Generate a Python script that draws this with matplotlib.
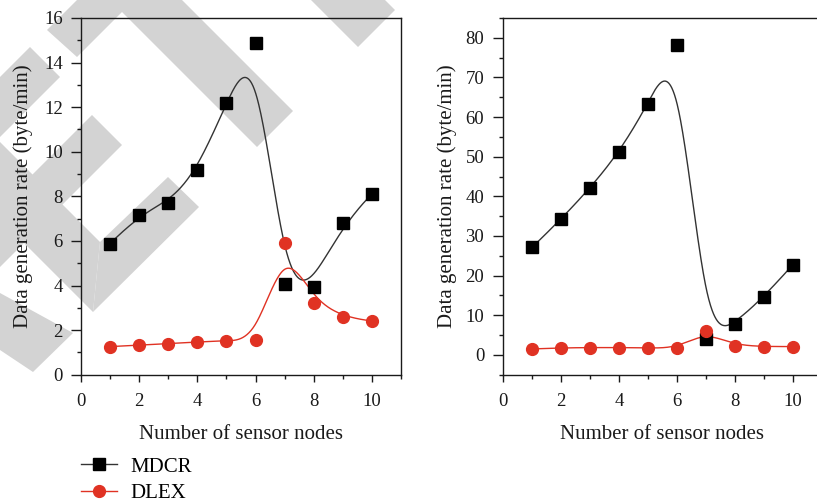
import numpy as np
import matplotlib
matplotlib.use("Agg")
import matplotlib.pyplot as plt
from matplotlib.ticker import MultipleLocator
from matplotlib.patches import Polygon
from matplotlib.lines import Line2D

# data
nodes = [1, 2, 3, 4, 5, 6, 7, 8, 9, 10]
mdcr_a = [5.88, 7.18, 7.68, 9.2, 12.2, 14.9, 4.05, 3.92, 6.8, 8.1]
dlex_a = [1.26, 1.33, 1.39, 1.47, 1.52, 1.56, 5.89, 3.23, 2.57, 2.41]
mdcr_b = [27.1, 34.2, 42.0, 51.1, 63.2, 78.3, 4.0, 7.9, 14.6, 22.8]
dlex_b = [1.5, 1.77, 1.85, 1.85, 1.77, 1.68, 5.9, 2.2, 2.1, 2.1]

W, H = 817, 503
plt.rcParams['font.family'] = ['Liberation Serif', 'DejaVu Serif']

BLACK = '#000000'
LINE_K = '#333333'
RED = '#e03223'
TXT = '#1a1a1a'


def bspline(xs, ys, n=600):
    # clamped cubic B-spline using the points as control points
    P = np.column_stack([xs, ys]).astype(float)
    k = 3
    m = len(P)
    knots = np.concatenate([[0.0] * k, np.arange(m - k + 1, dtype=float), [float(m - k)] * k])
    t = np.linspace(0, m - k, n)
    t[-1] -= 1e-9
    B = np.zeros((len(knots) - 1, n))
    for i in range(len(knots) - 1):
        B[i] = (knots[i] <= t) & (t < knots[i + 1])
    for p in range(1, k + 1):
        Bn = np.zeros((len(knots) - 1 - p, n))
        for i in range(len(knots) - 1 - p):
            d1 = knots[i + p] - knots[i]
            d2 = knots[i + p + 1] - knots[i + 1]
            a = (t - knots[i]) / d1 * B[i] if d1 > 0 else 0
            b = (knots[i + p + 1] - t) / d2 * B[i + 1] if d2 > 0 else 0
            Bn[i] = a + b
        B = Bn
    c = B.T @ P
    return c[:, 0], c[:, 1]


fig = plt.figure(figsize=(W / 100, H / 100), dpi=100)

# watermark bands (pixel coords, y down)
bands = [
    [(47, 30), (77, 0), (134, 0), (77, 57)],
    [(110, 0), (182, 0), (293, 111), (257, 147)],
    [(311, 0), (385, 0), (395, 10), (358, 47)],
    [(0, 77), (30, 47), (60, 77), (0, 137)],
    [(0, 207), (92, 115), (122, 145), (0, 267)],
    [(100, 242), (168, 177), (199, 207), (93, 312)],
    [(0, 142), (100, 242), (93, 312), (0, 219)],
    [(0, 293), (73, 333), (33, 372), (0, 350)],
]
for b in bands:
    pts = [(x / W, 1 - y / H) for x, y in b]
    fig.patches.append(Polygon(pts, closed=True, transform=fig.transFigure,
                               facecolor='#d3d3d3', edgecolor='none', zorder=-10))

ax1 = fig.add_axes([81 / W, 1 - 374.7 / H, 320 / W, 356.7 / H])
ax2 = fig.add_axes([503 / W, 1 - 374.7 / H, 319 / W, 356.7 / H])


def style(ax, ylim, major, minor, ypad, ylabpad):
    ax.set_facecolor('none')
    ax.set_xlim(0, 11)
    ax.set_ylim(*ylim)
    ax.xaxis.set_major_locator(MultipleLocator(2))
    ax.xaxis.set_minor_locator(MultipleLocator(1))
    ax.yaxis.set_major_locator(MultipleLocator(major))
    ax.yaxis.set_minor_locator(MultipleLocator(minor))
    ax.tick_params(which='both', direction='out', top=False, right=False,
                   width=1.0, labelsize=13.5, colors=TXT)
    ax.tick_params(axis='x', which='major', length=5, pad=8)
    ax.tick_params(axis='x', which='minor', length=2.7)
    ax.tick_params(axis='y', which='major', length=7, pad=ypad)
    ax.tick_params(axis='y', which='minor', length=3)
    for s in ax.spines.values():
        s.set_linewidth(1.0)
        s.set_color(TXT)
    ax.set_xlabel('Number of sensor nodes', fontsize=15, labelpad=11, color=TXT)
    ax.set_ylabel('Data generation rate (byte/min)', fontsize=15, labelpad=ylabpad, color=TXT)


for ax, m, d, ylim, mj, mn, yp, ylp in [(ax1, mdcr_a, dlex_a, (0, 16), 2, 1, 6, 8),
                                        (ax2, mdcr_b, dlex_b, (-5, 85), 10, 5, 6.5, 6)]:
    style(ax, ylim, mj, mn, yp, ylp)
    bx, by = bspline(nodes, m)
    ax.plot(bx, by, color=LINE_K, lw=1.0, zorder=2)
    rx, ry = bspline(nodes, d)
    ax.plot(rx, ry, color=RED, lw=1.0, zorder=2)
    ax.plot(nodes, m, 's', color=BLACK, ms=8, zorder=3)
    ax.plot(nodes, d, 'o', color=RED, ms=8.5, zorder=4)

handles = [Line2D([], [], color=LINE_K, lw=1.0, marker='s', ms=8, mfc=BLACK, mec=BLACK),
           Line2D([], [], color=RED, lw=1.0, marker='o', ms=8.5, mfc=RED, mec=RED)]
fig.legend(handles, ['MDCR', 'DLEX'], loc='upper left', bbox_to_anchor=(81 / W, 1 - 457 / H),
           frameon=False, fontsize=15, handlelength=1.75, handletextpad=0.6,
           labelspacing=0.35, borderpad=0, borderaxespad=0)

fig.savefig('out.png', dpi=100)
